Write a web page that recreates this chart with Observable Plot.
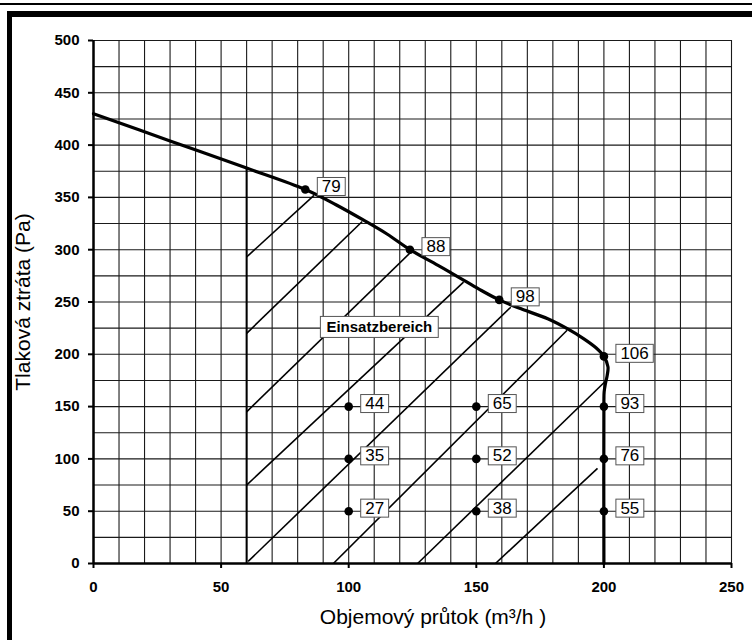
<!DOCTYPE html>
<html><head><meta charset="utf-8">
<script src="https://cdn.jsdelivr.net/npm/d3@7"></script>
<script src="https://cdn.jsdelivr.net/npm/@observablehq/plot@0.6"></script>
<style>
html,body{margin:0;padding:0;background:#fff;}
#wrap{position:relative;width:752px;height:640px;overflow:hidden;background:#fff;}
#chart{position:absolute;left:0;top:0;}
.fr{position:absolute;background:#000;}
#chart svg g[aria-label^="x-axis"] text, #chart svg g[aria-label^="y-axis"] text{font-weight:bold;font-size:15px;fill:#000;}
#chart svg g[aria-label^="x-axis"] path, #chart svg g[aria-label^="y-axis"] path,
#chart svg g[aria-label^="x-axis"] line, #chart svg g[aria-label^="y-axis"] line{stroke-width:2;stroke:#000;}
</style></head><body>
<div id="wrap"><div id="chart"></div>
<div class="fr" style="left:0;top:3px;width:752px;height:2px"></div>
<div class="fr" style="left:7px;top:11px;width:745px;height:6px"></div>
<div class="fr" style="left:7px;top:11px;width:5px;height:629px"></div>
</div>
<script>
// axis ticks and grid
const xTicks = [0, 50, 100, 150, 200, 250];
const yTicks = [0, 50, 100, 150, 200, 250, 300, 350, 400, 450, 500];
const gridX = [0,10,20,30,40,50,60,70,80,90,100,110,120,130,140,150,160,170,180,190,200,210,220,230,240,250];
const gridY = [0,25,50,75,100,125,150,175,200,225,250,275,300,325,350,375,400,425,450,475,500];

// fan curve (m3/h, Pa)
const curveX = [0, 30, 60, 83, 95, 106, 115, 124, 135, 145, 152, 159, 168, 178, 186, 192, 197, 200, 201.6, 201.3, 200.6, 200.1, 200, 200];
const curveY = [430, 404, 378, 357.5, 343, 328, 315, 300, 285, 271, 261, 252, 243, 234, 224, 215, 206, 198, 188, 180, 172, 164, 155, 0];

// labelled points
const ptX = [83, 124, 159, 200, 100, 100, 100, 150, 150, 150, 200, 200, 200];
const ptY = [357.5, 300, 252, 198, 150, 100, 50, 150, 100, 50, 150, 100, 50];
const ptLabel = ["79", "88", "98", "106", "44", "35", "27", "65", "52", "38", "93", "76", "55"];

// operating-range boundary and hatch segments
const limitX = 60, limitTop = 378;
const hx1 = [60, 60, 60, 60, 60.6, 94, 127, 157.5];
const hy1 = [293, 220, 145, 75, 2, 0, 0, 0];
const hx2 = [86.4, 105.3, 124.5, 145, 163.5, 185.6, 200.5, 197.5];
const hy2 = [352, 327, 298, 269, 245, 223, 174, 91];

const areaLabel = "Einsatzbereich";
const areaX = 112, areaY = 225.5;
const xTitle = "Objemový průtok (m³/h )";
const yTitle = "Tlaková ztráta (Pa)";

const curve = curveX.map((x, i) => ({x, y: curveY[i]}));
const points = ptX.map((x, i) => ({x, y: ptY[i], label: ptLabel[i]}));
const hatch = hx1.map((x1, i) => ({x1, y1: hy1[i], x2: hx2[i], y2: hy2[i]}));

const svg = Plot.plot({
  width: 752, height: 640,
  marginLeft: 93, marginRight: 21, marginTop: 40, marginBottom: 77,
  style: {fontFamily: "'Liberation Sans', Arial, sans-serif", fontSize: "16px", color: "black", background: "white"},
  x: {domain: [0, 250], ticks: xTicks, tickSize: 5, tickPadding: 13, label: null, tickFormat: d => String(d)},
  y: {domain: [0, 500], ticks: yTicks, tickSize: 5, tickPadding: 9, label: null, tickFormat: d => String(d)},
  marks: [
    Plot.ruleX(gridX, {stroke: "#1a1a1a", strokeWidth: 1.1}),
    Plot.ruleY(gridY, {stroke: "#1a1a1a", strokeWidth: 1.1}),
    Plot.link(hatch, {x1: "x1", y1: "y1", x2: "x2", y2: "y2", stroke: "black", strokeWidth: 1.6}),
    Plot.ruleX([{x: limitX, y1: 0, y2: limitTop}], {x: "x", y1: "y1", y2: "y2", stroke: "black", strokeWidth: 2}),
    Plot.ruleX([0], {stroke: "black", strokeWidth: 2.5}),
    Plot.ruleY([0], {stroke: "black", strokeWidth: 2.5}),
    Plot.line(curve, {x: "x", y: "y", curve: "catmull-rom", stroke: "black", strokeWidth: 3.2}),
    Plot.dot(points, {x: "x", y: "y", r: 4.3, fill: "black"}),
    Plot.text(points, {x: "x", y: "y", text: "label", dx: 16.5, dy: -3, textAnchor: "start", fontSize: 17, fill: "black"}),
    Plot.text([{x: areaX, y: areaY, t: areaLabel}], {x: "x", y: "y", text: "t", fontSize: 15, fontWeight: "bold", fill: "black"}),
    Plot.text([yTitle], {text: d => d, frameAnchor: "left", textAnchor: "middle", lineAnchor: "middle", rotate: -90, dx: -70, fontSize: 21, fill: "black"}),
    Plot.text([xTitle], {text: d => d, frameAnchor: "bottom", textAnchor: "middle", lineAnchor: "middle", dx: 20.5, dy: 54, fontSize: 21, fill: "black"})
  ]
});
document.getElementById("chart").append(svg);

function boxText(t, padX, padY) {
  const b = t.getBBox();
  const r = document.createElementNS("http://www.w3.org/2000/svg", "rect");
  r.setAttribute("x", b.x - padX);
  r.setAttribute("y", b.y - padY);
  r.setAttribute("width", b.width + 2 * padX);
  r.setAttribute("height", b.height + 2 * padY);
  r.setAttribute("fill", "white");
  r.setAttribute("stroke", "#555");
  r.setAttribute("stroke-width", "1");
  const tr = t.getAttribute("transform");
  if (tr) r.setAttribute("transform", tr);
  t.parentNode.insertBefore(r, t);
}
const labelSet = new Set(ptLabel);
Array.from(svg.querySelectorAll("text")).forEach(t => {
  const s = t.textContent.trim();
  if (labelSet.has(s)) boxText(t, 4.5, -0.5);
  else if (s === areaLabel) boxText(t, 6, 2);
});
</script>
</body></html>
